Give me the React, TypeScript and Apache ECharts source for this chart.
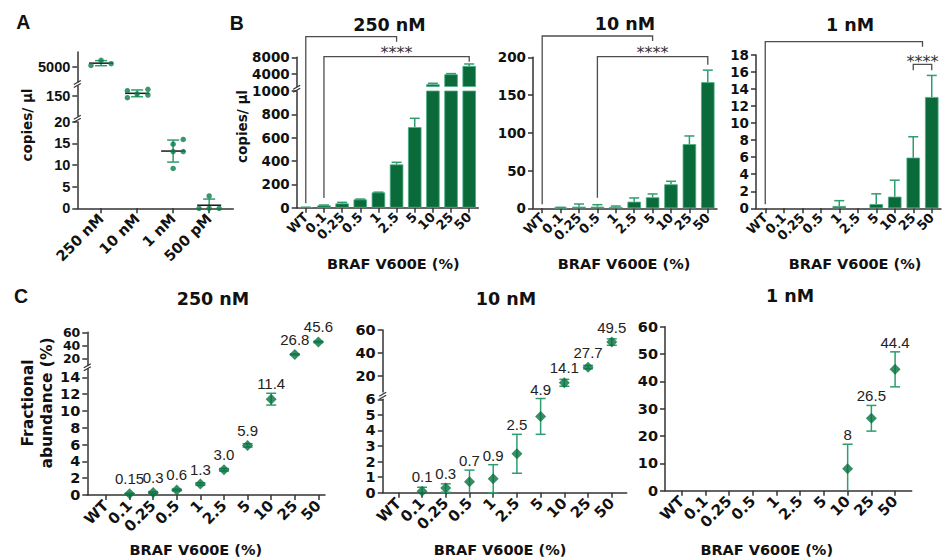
import React, { useEffect, useRef } from 'react';
import * as echarts from 'echarts';

// ---------------- data ----------------
const groupsA = ['250 nM', '10 nM', '1 nM', '500 pM'];
const copiesA250 = [5107, 5440, 5220];
const copiesA10 = [155.3, 156.7, 152.0, 151.0, 148.3];
const copiesA1 = [15.9, 14.8, 13.1, 13.1, 9.2];
const copiesA500 = [0, 2.84, 0, 0];

const mutCats = ['WT', '0.1', '0.25', '0.5', '1', '2.5', '5', '10', '25', '50'];

const b250Mean = [3, 20, 37, 71, 131, 371, 691, 1530, 3930, 5920];
const b250Sd = [1, 3, 9, 3, 2, 18, 75, 240, 160, 480];
const b10Mean = [0, 0.9, 2.2, 2.2, 1.8, 8.8, 14.6, 31.8, 85, 167];
const b10Sd = [0, 0.4, 3.5, 2.6, 1.2, 4.9, 4.4, 4.0, 10.8, 16];
const b1Mean = [0, 0, 0, 0, 0.27, 0, 0.5, 1.37, 5.95, 13.07];
const b1Sd = [0, 0, 0, 0, 0.63, 0, 1.2, 1.93, 2.45, 2.53];

// significance comparisons (second bracket); WT is compared at that bracket's centre
const sigB250 = ['0.1', '50'];
const sigB10 = ['0.5', '50'];
const sigB1 = ['25', '50'];
const sigText = '****';

const c250Mean = [null, 0.15, 0.3, 0.6, 1.3, 3.0, 5.9, 11.4, 26.8, 45.6];
const c250Sd = [null, 0.05, 0.1, 0.1, 0.15, 0.15, 0.2, 0.7, 0.8, 1.0];
const c250Labels = ['', '0.15', '0.3', '0.6', '1.3', '3.0', '5.9', '11.4', '26.8', '45.6'];
const c10Mean = [null, 0.1, 0.3, 0.7, 0.9, 2.5, 4.9, 14.1, 27.7, 49.5];
const c10Sd = [null, 0.25, 0.27, 0.75, 0.9, 1.25, 1.15, 3.0, 1.5, 2.8];
const c10Labels = ['', '0.1', '0.3', '0.7', '0.9', '2.5', '4.9', '14.1', '27.7', '49.5'];
const c1Mean = [null, null, null, null, null, null, null, 8, 26.5, 44.4];
const c1Sd = [null, null, null, null, null, null, null, 9, 4.7, 6.4];
const c1Labels = ['', '', '', '', '', '', '', '8', '26.5', '44.4'];

// ---------------- styling / layout ----------------
const DJ = 'DejaVu Sans';
const LB = 'Liberation Sans';
const BAR = '#0b6a3a';
const BAR_EDGE = '#4aae84';
const ERR = '#2e9d6f';
const DOT = '#0a7d48';
const DIAMOND = '#08703f';
const INK = '#111111';
const AXIS = '#333333';

type Seg = { top: number; h: number; min: number; max: number; ticks: number[]; split?: boolean; labelSize?: number };
type Layout = { left: number; width: number; xMin?: number; xMax?: number; segs: Seg[] };

const range = (a: number, b: number, s: number) => {
  const r: number[] = [];
  for (let v = a; v <= b + 1e-9; v += s) r.push(+v.toFixed(6));
  return r;
};

const layoutA: Layout = {
  left: 77.3, width: 156, xMin: -0.66, xMax: 3.67,
  segs: [
    { top: 52, h: 30, min: 4000, max: 6000, ticks: [5000] },
    { top: 86, h: 30, min: 130, max: 160, ticks: [150] },
    { top: 121.7, h: 86.6, min: 0, max: 20, ticks: range(0, 20, 5) },
  ],
};
const layoutB250: Layout = {
  left: 296.7, width: 181.6,
  segs: [
    { top: 57.3, h: 29.2, min: 1000, max: 8000, ticks: [4000, 8000] },
    { top: 91, h: 116.7, min: 0, max: 1000, ticks: range(0, 1000, 200) },
  ],
};
const layoutB10: Layout = { left: 533, width: 184, segs: [{ top: 57.3, h: 151, min: 0, max: 200, ticks: range(0, 200, 50) }] };
const layoutB1: Layout = { left: 756, width: 185, segs: [{ top: 55, h: 153.3, min: 0, max: 18, ticks: range(0, 18, 2) }] };
const layoutC250: Layout = {
  left: 87.3, width: 237.7, xMin: -0.79, xMax: 9.28,
  segs: [
    { top: 332.3, h: 33.3, min: 10, max: 60, ticks: [20, 40, 60], split: true, labelSize: 12.5 },
    { top: 368.9, h: 126.1, min: 0, max: 15, ticks: range(0, 14, 2) },
  ],
};
const layoutC10: Layout = {
  left: 382.7, width: 244, xMin: -0.66, xMax: 9.63,
  segs: [
    { top: 330, h: 62.1, min: 6, max: 60, ticks: [20, 40, 60] },
    { top: 399.3, h: 93.4, min: 0, max: 6, ticks: range(0, 6, 1) },
  ],
};
const layoutC1: Layout = { left: 665, width: 246.7, xMin: -0.7, xMax: 9.7, segs: [{ top: 326.7, h: 164, min: 0, max: 60, ticks: range(0, 60, 10) }] };

const jitterA = [[-0.28, 0, 0.28], [-0.27, 0.3, 0, 0.3, -0.27], [0.28, 0, 0, 0.28, 0], [-0.28, 0, 0, 0.28]];

const bracketB250 = { b1Top: 36.7, b1Tick: 5, b2Top: 56.7, leftLeg: 'data', rightLeg: 5, starsY: 49 };
const bracketB10 = { b1Top: 36, b1Tick: 5, b2Top: 56.7, leftLeg: 'data', rightLeg: 8, starsY: 49.7 };
const bracketB1 = { b1Top: 41.7, b1Tick: 5, b2Top: 64.3, leftLeg: 6, rightLeg: 6, starsY: 58.3 };

// ---------------- helpers ----------------
const mean = (a: number[]) => a.reduce((s, v) => s + v, 0) / a.length;
const sdev = (a: number[]) => {
  const m = mean(a);
  return Math.sqrt(a.reduce((s, v) => s + (v - m) ** 2, 0) / (a.length - 1));
};
const segIndex = (segs: Seg[], v: number) => {
  for (let i = segs.length - 1; i >= 0; i--) if (v >= segs[i].min && v <= segs[i].max) return i;
  return 0;
};
const ln = (x1: number, y1: number, x2: number, y2: number, stroke: string, w = 1.5) => ({
  type: 'line', shape: { x1, y1, x2, y2 }, style: { stroke, lineWidth: w },
});

const axisLine = { show: true, onZero: false, lineStyle: { color: AXIS, width: 1.5 } };
const axisTick = { show: true, length: 5, lineStyle: { color: AXIS, width: 1.5 } };

const yAxisCfg = (s: Seg, font: any, labelVals: number[], bare = false) => ({
  type: 'value', min: s.min, max: s.max,
  axisLine: bare ? { show: false } : axisLine,
  splitLine: { show: false },
  axisTick: bare ? { show: false } : { ...axisTick, customValues: s.ticks },
  axisLabel: {
    customValues: labelVals, margin: 7, color: INK, hideOverlap: false,
    showMinLabel: true, showMaxLabel: true,
    formatter: (v: number) => String(v), ...font,
    ...(s.labelSize ? { fontSize: s.labelSize, lineHeight: s.labelSize } : {}),
  },
});
const xValueAxis = (L: Layout, cats: string[], show: boolean, font: any) => {
  const vals = cats.map((_, i) => i);
  return {
    type: 'value', min: L.xMin, max: L.xMax, show,
    axisLine, splitLine: { show: false },
    axisTick: { ...axisTick, customValues: vals },
    axisLabel: {
      customValues: vals, hideOverlap: false,
      formatter: (v: number) => cats[Math.round(v)] ?? '', rotate: 45, margin: 8, color: INK, ...font,
    },
  };
};
const xCatAxis = (show: boolean, font: any) => ({
  type: 'category', data: mutCats, show,
  axisLine, splitLine: { show: false },
  axisTick: { ...axisTick, alignWithLabel: true },
  axisLabel: { interval: 0, rotate: 45, margin: 7, color: INK, hideOverlap: false, ...font },
});

const fontTickA = { fontFamily: LB, fontWeight: 'bold', fontSize: 14.5 };
const fontCatA = { fontFamily: DJ, fontWeight: 'bold', fontSize: 14.5 };
const fontTickB = { fontFamily: DJ, fontWeight: 'bold', fontSize: 13.5 };
const fontCatB = { fontFamily: DJ, fontWeight: 'bold', fontSize: 13 };
const fontTickC = { fontFamily: DJ, fontWeight: 'bold', fontSize: 14.5 };
const fontCatC = { fontFamily: DJ, fontWeight: 'bold', fontSize: 15 };

const bPanels = [
  { L: layoutB250, mean: b250Mean, sd: b250Sd, sig: sigB250, br: bracketB250 },
  { L: layoutB10, mean: b10Mean, sd: b10Sd, sig: sigB10, br: bracketB10 },
  { L: layoutB1, mean: b1Mean, sd: b1Sd, sig: sigB1, br: bracketB1 },
];
const cPanels = [
  { L: layoutC250, mean: c250Mean, sd: c250Sd, labels: c250Labels },
  { L: layoutC10, mean: c10Mean, sd: c10Sd, labels: c10Labels },
  { L: layoutC1, mean: c1Mean, sd: c1Sd, labels: c1Labels },
];

function buildOption() {
  const grid: any[] = [], xAxis: any[] = [], yAxis: any[] = [], series: any[] = [];
  const pushGrid = (L: Layout, s: Seg, xa: any, ya: any) => {
    const gi = grid.length;
    grid.push({ left: L.left, top: s.top, width: L.width, height: s.h, containLabel: false, outerBoundsMode: 'none' });
    xAxis.push({ ...xa, gridIndex: gi });
    yAxis.push({ ...ya, gridIndex: gi });
    return gi;
  };
  // a segment whose tick labels sit very close together gets its alternate labels on an overlaid bare axis
  const add = (L: Layout, s: Seg, xa: any, font: any) => {
    const main = s.split ? s.ticks.filter((_, i) => i % 2 === 0) : s.ticks;
    const gi = pushGrid(L, s, xa, yAxisCfg(s, font, main));
    if (s.split) {
      pushGrid(L, s, { ...xa, show: false }, yAxisCfg(s, font, s.ticks.filter((_, i) => i % 2 === 1), true));
    }
    return gi;
  };

  // ---- panel A ----
  const repsA = [copiesA250, copiesA10, copiesA1, copiesA500];
  const statsA = repsA.map((r) => ({ m: mean(r), s: sdev(r) }));
  layoutA.segs.forEach((seg, k) => {
    const gi = add(layoutA, seg, xValueAxis(layoutA, groupsA, k === layoutA.segs.length - 1, fontCatA), fontTickA);
    const members = repsA.map((_, g) => g).filter((g) => segIndex(layoutA.segs, statsA[g].m) === k);
    if (!members.length) return;
    series.push({
      type: 'custom', xAxisIndex: gi, yAxisIndex: gi, z: 3,
      data: members.map((g) => [g, statsA[g].m - statsA[g].s, statsA[g].m + statsA[g].s, statsA[g].m]),
      renderItem: (_p: any, api: any) => {
        const g = api.value(0), lo = api.value(1), hi = api.value(2), m = api.value(3);
        const pm = api.coord([g, m]);
        const ph = api.coord([g, hi]);
        const pl = api.coord([g, Math.max(lo, seg.min)]);
        const ch: any[] = [ln(pm[0], ph[1], pm[0], pl[1], ERR), ln(pm[0] - 6, ph[1], pm[0] + 6, ph[1], ERR)];
        if (lo >= seg.min) ch.push(ln(pm[0] - 6, pl[1], pm[0] + 6, pl[1], ERR));
        ch.push(ln(pm[0] - 12, pm[1], pm[0] + 12, pm[1], '#1a1a1a'));
        return { type: 'group', children: ch };
      },
    });
    series.push({
      type: 'scatter', xAxisIndex: gi, yAxisIndex: gi, z: 4, symbol: 'circle', symbolSize: 5.5,
      itemStyle: { color: DOT },
      data: members.flatMap((g) => repsA[g].map((v, j) => [g + jitterA[g][j], v])),
    });
  });

  // ---- panel B ----
  const bGrids: number[][] = [];
  bPanels.forEach((p) => {
    const ids: number[] = [];
    p.L.segs.forEach((seg, k) => {
      const gi = add(p.L, seg, xCatAxis(k === p.L.segs.length - 1, fontCatB), fontTickB);
      ids.push(gi);
      series.push({
        type: 'bar', xAxisIndex: gi, yAxisIndex: gi, barWidth: 13.5, clip: true, z: 2,
        itemStyle: { color: BAR, borderColor: BAR_EDGE, borderWidth: 0.8 },
        data: p.mean.map((v) => (v > seg.min ? v : '-')),
      });
      const items = p.mean
        .map((m, i) => [i, m, m + p.sd[i]])
        .filter(([i, m]) => p.sd[i] > 0 && segIndex(p.L.segs, m) === k);
      series.push({
        type: 'custom', xAxisIndex: gi, yAxisIndex: gi, z: 3, data: items,
        renderItem: (_q: any, api: any) => {
          const i = api.value(0), m = api.value(1), h = api.value(2);
          const pm = api.coord([i, m]);
          const ph = api.coord([i, h]);
          return { type: 'group', children: [ln(pm[0], pm[1], pm[0], ph[1], ERR), ln(pm[0] - 5, ph[1], pm[0] + 5, ph[1], ERR)] };
        },
      });
    });
    bGrids.push(ids);
  });

  // ---- panel C ----
  cPanels.forEach((p) => {
    p.L.segs.forEach((seg, k) => {
      const gi = add(p.L, seg, xValueAxis(p.L, mutCats, k === p.L.segs.length - 1, fontCatC), fontTickC);
      const idx = p.mean.map((_, i) => i).filter((i) => p.mean[i] != null && segIndex(p.L.segs, p.mean[i] as number) === k);
      series.push({
        type: 'custom', xAxisIndex: gi, yAxisIndex: gi, z: 3,
        data: idx.map((i) => {
          const m = p.mean[i] as number, s = p.sd[i] as number;
          return [i, m - s, m + s, m];
        }),
        renderItem: (_q: any, api: any) => {
          const i = api.value(0), lo = api.value(1), hi = api.value(2), m = api.value(3);
          const pm = api.coord([i, m]);
          const ph = api.coord([i, hi]);
          const pl = api.coord([i, Math.max(lo, seg.min)]);
          const ch: any[] = [ln(pm[0], ph[1], pm[0], pl[1], ERR), ln(pm[0] - 5, ph[1], pm[0] + 5, ph[1], ERR)];
          if (lo >= seg.min) ch.push(ln(pm[0] - 5, pl[1], pm[0] + 5, pl[1], ERR));
          const yTop = Math.min(ph[1], pm[1] - 5.5);
          ch.push({
            type: 'text', x: pm[0], y: yTop - 2,
            style: { text: p.labels[i], align: 'center', verticalAlign: 'bottom', fontSize: 15, fontFamily: LB, fill: '#222' },
          });
          return { type: 'group', children: ch };
        },
      });
      series.push({
        type: 'scatter', xAxisIndex: gi, yAxisIndex: gi, z: 4, symbol: 'diamond', symbolSize: 11,
        itemStyle: { color: DIAMOND },
        data: idx.map((i) => [i, p.mean[i]]),
      });
    });
  });

  return {
    option: { animation: false, backgroundColor: '#ffffff', textStyle: { fontFamily: DJ }, grid, xAxis, yAxis, series },
    bGrids,
  };
}

function buildGraphic(chart: any, bGrids: number[][]) {
  const els: any[] = [];
  const txt = (text: string, x: number, y: number, size: number, family: string, weight: string, rot = 0, fill = INK) => {
    els.push({
      type: 'text', x, y, rotation: rot, silent: true,
      style: { text, fontSize: size, fontFamily: family, fontWeight: weight, fill, align: 'center', verticalAlign: 'middle' },
    });
  };
  // panel letters
  txt('A', 23.3, 22.3, 19.5, LB, 'bold');
  txt('B', 236.7, 23.3, 19.5, LB, 'bold');
  txt('C', 21, 296, 19.5, LB, 'bold');
  // titles
  txt('250 nM', 389.5, 25, 17.5, DJ, 'bold');
  txt('10 nM', 625, 24, 17.5, DJ, 'bold');
  txt('1 nM', 850, 24.5, 17.5, DJ, 'bold');
  txt('250 nM', 213, 299, 17.5, DJ, 'bold');
  txt('10 nM', 506, 299, 17.5, DJ, 'bold');
  txt('1 nM', 790, 296, 17.5, DJ, 'bold');
  // axis names
  const xn = 'BRAF V600E (%)';
  txt(xn, 393.3, 264, 14.5, DJ, 'bold');
  txt(xn, 624, 264, 14.5, DJ, 'bold');
  txt(xn, 855, 264, 14.5, DJ, 'bold');
  txt(xn, 195.8, 550, 14.5, DJ, 'bold');
  txt(xn, 500, 550, 14.5, DJ, 'bold');
  txt(xn, 766.7, 550, 14.5, DJ, 'bold');
  txt('copies/ µl', 26.7, 125, 13.5, DJ, 'bold', Math.PI / 2);
  txt('copies/ µl', 241.7, 126.5, 13.5, DJ, 'bold', Math.PI / 2);
  txt('Fractional', 28, 403, 15.5, DJ, 'bold', Math.PI / 2);
  txt('abundance (%)', 46.7, 403, 15.5, DJ, 'bold', Math.PI / 2);

  // axis break marks
  [layoutA, layoutB250, layoutC250, layoutC10].forEach((L) => {
    for (let k = 0; k < L.segs.length - 1; k++) {
      const y = (L.segs[k].top + L.segs[k].h + L.segs[k + 1].top) / 2;
      const x = L.left;
      els.push({ type: 'line', silent: true, shape: { x1: x - 3.5, y1: y + 0.5, x2: x + 3.5, y2: y - 3.5 }, style: { stroke: AXIS, lineWidth: 1.2 } });
      els.push({ type: 'line', silent: true, shape: { x1: x - 3.5, y1: y + 3.5, x2: x + 3.5, y2: y - 0.5 }, style: { stroke: AXIS, lineWidth: 1.2 } });
    }
  });

  // significance brackets
  bPanels.forEach((p, n) => {
    const gi = bGrids[n][bGrids[n].length - 1];
    const seg = p.L.segs[p.L.segs.length - 1];
    const px = (i: number, v: number) => chart.convertToPixel({ gridIndex: gi }, [i, Math.min(v, seg.max)]);
    const a = mutCats.indexOf(p.sig[0]);
    const b = mutCats.indexOf(p.sig[1]);
    const xw = px(0, 0)[0], xa = px(a, 0)[0], xb = px(b, 0)[0];
    const xm = (xa + xb) / 2;
    const br = p.br;
    const stroke = '#4d4d4d';
    const wtBottom = px(0, p.mean[0] + p.sd[0])[1] - 4;
    const add = (pts: number[][]) => els.push({ type: 'polyline', silent: true, shape: { points: pts }, style: { stroke, lineWidth: 1.3, fill: 'none' } });
    add([[xw, wtBottom], [xw, br.b1Top], [xm, br.b1Top], [xm, br.b1Top + br.b1Tick]]);
    const leftBottom = br.leftLeg === 'data' ? px(a, p.mean[a] + p.sd[a])[1] - 7 : br.b2Top + (br.leftLeg as number);
    add([[xa, leftBottom], [xa, br.b2Top], [xb, br.b2Top], [xb, br.b2Top + br.rightLeg]]);
    txt(sigText, xm, br.starsY + 3, 16, DJ, 'normal', 0, '#333');
  });
  return els;
}

export default function App() {
  const ref = useRef<HTMLDivElement>(null);
  useEffect(() => {
    document.body.style.margin = '0';
    const chart = echarts.init(ref.current as HTMLDivElement, null, { renderer: 'svg' });
    const { option, bGrids } = buildOption();
    chart.setOption(option as any);
    chart.setOption({ graphic: { elements: buildGraphic(chart, bGrids) } } as any);
    return () => chart.dispose();
  }, []);
  return <div ref={ref} style={{ width: 943, height: 560 }} />;
}
